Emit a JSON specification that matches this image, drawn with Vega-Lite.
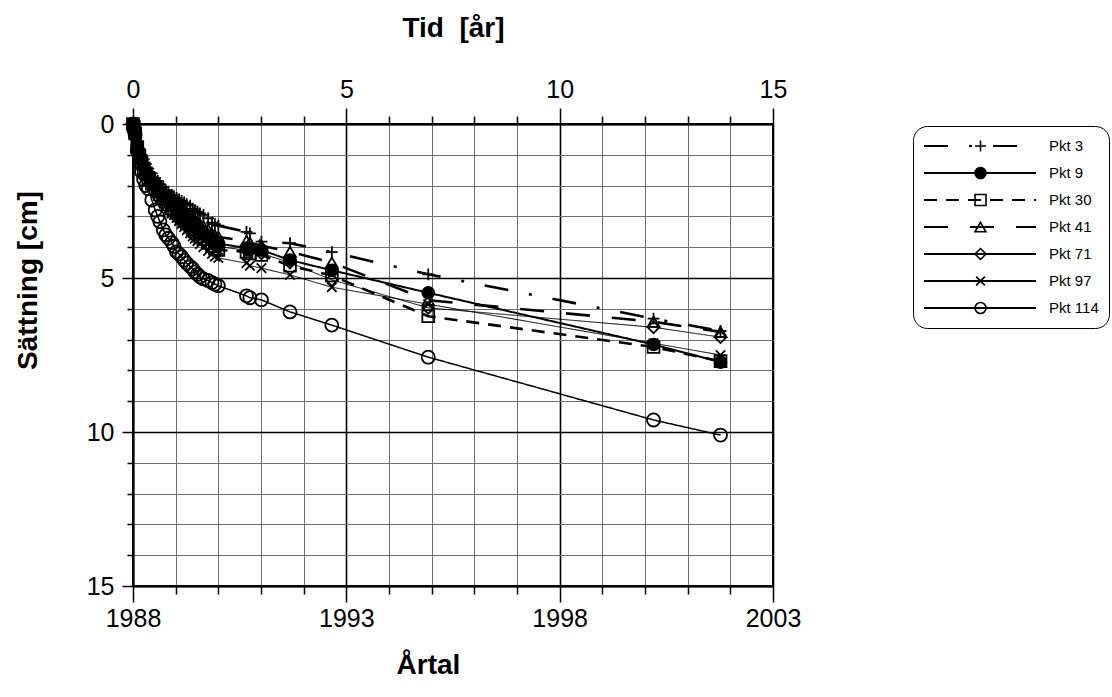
{
"$schema": "https://vega.github.io/schema/vega-lite/v6.json",
"width": 640, "height": 462,
"autosize": {"type": "none"},
"padding": {"left": 133, "top": 124, "right": 339, "bottom": 111},
"background": "white",
"config": {
  "view": {"stroke": "black", "strokeWidth": 2},
  "axis": {"domainColor": "black", "domainWidth": 2, "tickColor": "black", "tickWidth": 1.5, "labelColor": "black", "titleColor": "black",
    "labelFont": "Liberation Sans", "labelFontSize": 25,
    "titleFont": "Liberation Sans", "titleFontSize": 28, "titleFontWeight": "bold",
    "labelOverlap": false, "labelFlush": false}
},
"data": {"values": [
{"Pkt":"Pkt 3","t":0,"s":0},{"Pkt":"Pkt 3","t":0.02,"s":0.05},{"Pkt":"Pkt 3","t":0.05,"s":0.2},{"Pkt":"Pkt 3","t":0.1,"s":0.6},{"Pkt":"Pkt 3","t":0.15,"s":0.8},{"Pkt":"Pkt 3","t":0.2,"s":1.0},{"Pkt":"Pkt 3","t":0.25,"s":1.15},{"Pkt":"Pkt 3","t":0.3,"s":1.3},{"Pkt":"Pkt 3","t":0.36,"s":1.45},{"Pkt":"Pkt 3","t":0.44,"s":1.6},{"Pkt":"Pkt 3","t":0.52,"s":1.75},{"Pkt":"Pkt 3","t":0.58,"s":1.85},{"Pkt":"Pkt 3","t":0.63,"s":1.95},{"Pkt":"Pkt 3","t":0.71,"s":2.05},{"Pkt":"Pkt 3","t":0.77,"s":2.15},{"Pkt":"Pkt 3","t":0.83,"s":2.2},{"Pkt":"Pkt 3","t":0.91,"s":2.3},{"Pkt":"Pkt 3","t":0.96,"s":2.35},{"Pkt":"Pkt 3","t":1.02,"s":2.4},{"Pkt":"Pkt 3","t":1.08,"s":2.45},{"Pkt":"Pkt 3","t":1.14,"s":2.5},{"Pkt":"Pkt 3","t":1.2,"s":2.55},{"Pkt":"Pkt 3","t":1.26,"s":2.6},{"Pkt":"Pkt 3","t":1.34,"s":2.65},{"Pkt":"Pkt 3","t":1.4,"s":2.75},{"Pkt":"Pkt 3","t":1.45,"s":2.8},{"Pkt":"Pkt 3","t":1.51,"s":2.85},{"Pkt":"Pkt 3","t":1.57,"s":2.9},{"Pkt":"Pkt 3","t":1.65,"s":2.95},{"Pkt":"Pkt 3","t":1.76,"s":3.06},{"Pkt":"Pkt 3","t":1.85,"s":3.2},{"Pkt":"Pkt 3","t":1.92,"s":3.25},{"Pkt":"Pkt 3","t":2.0,"s":3.3},{"Pkt":"Pkt 3","t":2.66,"s":3.5},{"Pkt":"Pkt 3","t":2.74,"s":3.55},{"Pkt":"Pkt 3","t":3.01,"s":3.82},{"Pkt":"Pkt 3","t":3.68,"s":3.87},{"Pkt":"Pkt 3","t":4.66,"s":4.16},{"Pkt":"Pkt 3","t":6.92,"s":4.88},{"Pkt":"Pkt 3","t":12.2,"s":6.32},{"Pkt":"Pkt 3","t":13.77,"s":6.72},
{"Pkt":"Pkt 9","t":0,"s":0},{"Pkt":"Pkt 9","t":0.02,"s":0.08},{"Pkt":"Pkt 9","t":0.05,"s":0.28},{"Pkt":"Pkt 9","t":0.1,"s":0.71},{"Pkt":"Pkt 9","t":0.15,"s":0.97},{"Pkt":"Pkt 9","t":0.2,"s":1.19},{"Pkt":"Pkt 9","t":0.25,"s":1.37},{"Pkt":"Pkt 9","t":0.3,"s":1.52},{"Pkt":"Pkt 9","t":0.36,"s":1.67},{"Pkt":"Pkt 9","t":0.44,"s":1.85},{"Pkt":"Pkt 9","t":0.52,"s":2.0},{"Pkt":"Pkt 9","t":0.58,"s":2.1},{"Pkt":"Pkt 9","t":0.63,"s":2.2},{"Pkt":"Pkt 9","t":0.71,"s":2.33},{"Pkt":"Pkt 9","t":0.77,"s":2.43},{"Pkt":"Pkt 9","t":0.83,"s":2.5},{"Pkt":"Pkt 9","t":0.91,"s":2.63},{"Pkt":"Pkt 9","t":0.96,"s":2.68},{"Pkt":"Pkt 9","t":1.02,"s":2.76},{"Pkt":"Pkt 9","t":1.08,"s":2.84},{"Pkt":"Pkt 9","t":1.14,"s":2.91},{"Pkt":"Pkt 9","t":1.2,"s":2.99},{"Pkt":"Pkt 9","t":1.26,"s":3.07},{"Pkt":"Pkt 9","t":1.34,"s":3.15},{"Pkt":"Pkt 9","t":1.4,"s":3.25},{"Pkt":"Pkt 9","t":1.45,"s":3.31},{"Pkt":"Pkt 9","t":1.51,"s":3.37},{"Pkt":"Pkt 9","t":1.57,"s":3.45},{"Pkt":"Pkt 9","t":1.65,"s":3.53},{"Pkt":"Pkt 9","t":1.76,"s":3.64},{"Pkt":"Pkt 9","t":1.85,"s":3.76},{"Pkt":"Pkt 9","t":1.92,"s":3.83},{"Pkt":"Pkt 9","t":2.0,"s":3.88},{"Pkt":"Pkt 9","t":2.66,"s":4.03},{"Pkt":"Pkt 9","t":2.74,"s":4.06},{"Pkt":"Pkt 9","t":3.01,"s":4.09},{"Pkt":"Pkt 9","t":3.68,"s":4.42},{"Pkt":"Pkt 9","t":4.66,"s":4.75},{"Pkt":"Pkt 9","t":6.92,"s":5.48},{"Pkt":"Pkt 9","t":12.2,"s":7.16},{"Pkt":"Pkt 9","t":13.77,"s":7.73},
{"Pkt":"Pkt 30","t":0,"s":0},{"Pkt":"Pkt 30","t":0.02,"s":0.09},{"Pkt":"Pkt 30","t":0.05,"s":0.31},{"Pkt":"Pkt 30","t":0.1,"s":0.75},{"Pkt":"Pkt 30","t":0.15,"s":1.03},{"Pkt":"Pkt 30","t":0.2,"s":1.26},{"Pkt":"Pkt 30","t":0.25,"s":1.45},{"Pkt":"Pkt 30","t":0.3,"s":1.6},{"Pkt":"Pkt 30","t":0.36,"s":1.75},{"Pkt":"Pkt 30","t":0.44,"s":1.94},{"Pkt":"Pkt 30","t":0.52,"s":2.09},{"Pkt":"Pkt 30","t":0.58,"s":2.19},{"Pkt":"Pkt 30","t":0.63,"s":2.29},{"Pkt":"Pkt 30","t":0.71,"s":2.43},{"Pkt":"Pkt 30","t":0.77,"s":2.53},{"Pkt":"Pkt 30","t":0.83,"s":2.61},{"Pkt":"Pkt 30","t":0.91,"s":2.75},{"Pkt":"Pkt 30","t":0.96,"s":2.8},{"Pkt":"Pkt 30","t":1.02,"s":2.89},{"Pkt":"Pkt 30","t":1.08,"s":2.98},{"Pkt":"Pkt 30","t":1.14,"s":3.06},{"Pkt":"Pkt 30","t":1.2,"s":3.15},{"Pkt":"Pkt 30","t":1.26,"s":3.24},{"Pkt":"Pkt 30","t":1.34,"s":3.33},{"Pkt":"Pkt 30","t":1.4,"s":3.43},{"Pkt":"Pkt 30","t":1.45,"s":3.49},{"Pkt":"Pkt 30","t":1.51,"s":3.56},{"Pkt":"Pkt 30","t":1.57,"s":3.65},{"Pkt":"Pkt 30","t":1.65,"s":3.74},{"Pkt":"Pkt 30","t":1.76,"s":3.86},{"Pkt":"Pkt 30","t":1.85,"s":3.97},{"Pkt":"Pkt 30","t":1.92,"s":4.05},{"Pkt":"Pkt 30","t":2.0,"s":4.09},{"Pkt":"Pkt 30","t":2.66,"s":4.15},{"Pkt":"Pkt 30","t":2.74,"s":4.2},{"Pkt":"Pkt 30","t":3.01,"s":4.25},{"Pkt":"Pkt 30","t":3.68,"s":4.6},{"Pkt":"Pkt 30","t":4.66,"s":4.92},{"Pkt":"Pkt 30","t":6.92,"s":6.24},{"Pkt":"Pkt 30","t":12.2,"s":7.24},{"Pkt":"Pkt 30","t":13.77,"s":7.7},
{"Pkt":"Pkt 41","t":0,"s":0},{"Pkt":"Pkt 41","t":0.02,"s":0.07},{"Pkt":"Pkt 41","t":0.05,"s":0.25},{"Pkt":"Pkt 41","t":0.1,"s":0.67},{"Pkt":"Pkt 41","t":0.15,"s":0.91},{"Pkt":"Pkt 41","t":0.2,"s":1.12},{"Pkt":"Pkt 41","t":0.25,"s":1.29},{"Pkt":"Pkt 41","t":0.3,"s":1.44},{"Pkt":"Pkt 41","t":0.36,"s":1.59},{"Pkt":"Pkt 41","t":0.44,"s":1.76},{"Pkt":"Pkt 41","t":0.52,"s":1.91},{"Pkt":"Pkt 41","t":0.58,"s":2.01},{"Pkt":"Pkt 41","t":0.63,"s":2.11},{"Pkt":"Pkt 41","t":0.71,"s":2.23},{"Pkt":"Pkt 41","t":0.77,"s":2.33},{"Pkt":"Pkt 41","t":0.83,"s":2.39},{"Pkt":"Pkt 41","t":0.91,"s":2.51},{"Pkt":"Pkt 41","t":0.96,"s":2.56},{"Pkt":"Pkt 41","t":1.02,"s":2.63},{"Pkt":"Pkt 41","t":1.08,"s":2.7},{"Pkt":"Pkt 41","t":1.14,"s":2.76},{"Pkt":"Pkt 41","t":1.2,"s":2.83},{"Pkt":"Pkt 41","t":1.26,"s":2.9},{"Pkt":"Pkt 41","t":1.34,"s":2.97},{"Pkt":"Pkt 41","t":1.4,"s":3.07},{"Pkt":"Pkt 41","t":1.45,"s":3.12},{"Pkt":"Pkt 41","t":1.51,"s":3.18},{"Pkt":"Pkt 41","t":1.57,"s":3.25},{"Pkt":"Pkt 41","t":1.65,"s":3.32},{"Pkt":"Pkt 41","t":1.76,"s":3.43},{"Pkt":"Pkt 41","t":1.85,"s":3.56},{"Pkt":"Pkt 41","t":1.92,"s":3.62},{"Pkt":"Pkt 41","t":2.0,"s":3.67},{"Pkt":"Pkt 41","t":2.66,"s":3.8},{"Pkt":"Pkt 41","t":2.74,"s":3.85},{"Pkt":"Pkt 41","t":3.01,"s":3.95},{"Pkt":"Pkt 41","t":3.68,"s":4.15},{"Pkt":"Pkt 41","t":4.66,"s":4.5},{"Pkt":"Pkt 41","t":6.92,"s":5.72},{"Pkt":"Pkt 41","t":12.2,"s":6.42},{"Pkt":"Pkt 41","t":13.77,"s":6.75},
{"Pkt":"Pkt 71","t":0,"s":0},{"Pkt":"Pkt 71","t":0.02,"s":0.08},{"Pkt":"Pkt 71","t":0.05,"s":0.3},{"Pkt":"Pkt 71","t":0.1,"s":0.73},{"Pkt":"Pkt 71","t":0.15,"s":1.0},{"Pkt":"Pkt 71","t":0.2,"s":1.23},{"Pkt":"Pkt 71","t":0.25,"s":1.41},{"Pkt":"Pkt 71","t":0.3,"s":1.56},{"Pkt":"Pkt 71","t":0.36,"s":1.71},{"Pkt":"Pkt 71","t":0.44,"s":1.89},{"Pkt":"Pkt 71","t":0.52,"s":2.04},{"Pkt":"Pkt 71","t":0.58,"s":2.14},{"Pkt":"Pkt 71","t":0.63,"s":2.24},{"Pkt":"Pkt 71","t":0.71,"s":2.38},{"Pkt":"Pkt 71","t":0.77,"s":2.48},{"Pkt":"Pkt 71","t":0.83,"s":2.56},{"Pkt":"Pkt 71","t":0.91,"s":2.69},{"Pkt":"Pkt 71","t":0.96,"s":2.74},{"Pkt":"Pkt 71","t":1.02,"s":2.82},{"Pkt":"Pkt 71","t":1.08,"s":2.91},{"Pkt":"Pkt 71","t":1.14,"s":2.99},{"Pkt":"Pkt 71","t":1.2,"s":3.07},{"Pkt":"Pkt 71","t":1.26,"s":3.15},{"Pkt":"Pkt 71","t":1.34,"s":3.24},{"Pkt":"Pkt 71","t":1.4,"s":3.34},{"Pkt":"Pkt 71","t":1.45,"s":3.4},{"Pkt":"Pkt 71","t":1.51,"s":3.47},{"Pkt":"Pkt 71","t":1.57,"s":3.55},{"Pkt":"Pkt 71","t":1.65,"s":3.63},{"Pkt":"Pkt 71","t":1.76,"s":3.75},{"Pkt":"Pkt 71","t":1.85,"s":3.86},{"Pkt":"Pkt 71","t":1.92,"s":3.94},{"Pkt":"Pkt 71","t":2.0,"s":3.98},{"Pkt":"Pkt 71","t":2.66,"s":4.1},{"Pkt":"Pkt 71","t":2.74,"s":4.12},{"Pkt":"Pkt 71","t":3.01,"s":4.2},{"Pkt":"Pkt 71","t":3.68,"s":4.5},{"Pkt":"Pkt 71","t":4.66,"s":5.06},{"Pkt":"Pkt 71","t":6.92,"s":5.97},{"Pkt":"Pkt 71","t":12.2,"s":6.6},{"Pkt":"Pkt 71","t":13.77,"s":6.92},
{"Pkt":"Pkt 97","t":0,"s":0},{"Pkt":"Pkt 97","t":0.02,"s":0.1},{"Pkt":"Pkt 97","t":0.05,"s":0.35},{"Pkt":"Pkt 97","t":0.1,"s":0.8},{"Pkt":"Pkt 97","t":0.15,"s":1.1},{"Pkt":"Pkt 97","t":0.2,"s":1.35},{"Pkt":"Pkt 97","t":0.25,"s":1.55},{"Pkt":"Pkt 97","t":0.3,"s":1.7},{"Pkt":"Pkt 97","t":0.36,"s":1.85},{"Pkt":"Pkt 97","t":0.44,"s":2.05},{"Pkt":"Pkt 97","t":0.52,"s":2.2},{"Pkt":"Pkt 97","t":0.58,"s":2.3},{"Pkt":"Pkt 97","t":0.63,"s":2.4},{"Pkt":"Pkt 97","t":0.71,"s":2.55},{"Pkt":"Pkt 97","t":0.77,"s":2.65},{"Pkt":"Pkt 97","t":0.83,"s":2.75},{"Pkt":"Pkt 97","t":0.91,"s":2.9},{"Pkt":"Pkt 97","t":0.96,"s":2.95},{"Pkt":"Pkt 97","t":1.02,"s":3.05},{"Pkt":"Pkt 97","t":1.08,"s":3.15},{"Pkt":"Pkt 97","t":1.14,"s":3.25},{"Pkt":"Pkt 97","t":1.2,"s":3.35},{"Pkt":"Pkt 97","t":1.26,"s":3.45},{"Pkt":"Pkt 97","t":1.34,"s":3.55},{"Pkt":"Pkt 97","t":1.4,"s":3.65},{"Pkt":"Pkt 97","t":1.45,"s":3.72},{"Pkt":"Pkt 97","t":1.51,"s":3.8},{"Pkt":"Pkt 97","t":1.57,"s":3.9},{"Pkt":"Pkt 97","t":1.65,"s":4.0},{"Pkt":"Pkt 97","t":1.76,"s":4.12},{"Pkt":"Pkt 97","t":1.85,"s":4.22},{"Pkt":"Pkt 97","t":1.92,"s":4.31},{"Pkt":"Pkt 97","t":2.0,"s":4.35},{"Pkt":"Pkt 97","t":2.66,"s":4.52},{"Pkt":"Pkt 97","t":2.74,"s":4.6},{"Pkt":"Pkt 97","t":3.01,"s":4.68},{"Pkt":"Pkt 97","t":3.68,"s":4.9},{"Pkt":"Pkt 97","t":4.66,"s":5.3},{"Pkt":"Pkt 97","t":6.92,"s":5.85},{"Pkt":"Pkt 97","t":12.2,"s":7.12},{"Pkt":"Pkt 97","t":13.77,"s":7.5},
{"Pkt":"Pkt 114","t":0,"s":0},{"Pkt":"Pkt 114","t":0.02,"s":0.1},{"Pkt":"Pkt 114","t":0.05,"s":0.35},{"Pkt":"Pkt 114","t":0.1,"s":0.85},{"Pkt":"Pkt 114","t":0.15,"s":1.25},{"Pkt":"Pkt 114","t":0.2,"s":1.55},{"Pkt":"Pkt 114","t":0.25,"s":1.8},{"Pkt":"Pkt 114","t":0.3,"s":2.0},{"Pkt":"Pkt 114","t":0.36,"s":2.1},{"Pkt":"Pkt 114","t":0.44,"s":2.47},{"Pkt":"Pkt 114","t":0.52,"s":2.79},{"Pkt":"Pkt 114","t":0.58,"s":3.0},{"Pkt":"Pkt 114","t":0.63,"s":3.17},{"Pkt":"Pkt 114","t":0.71,"s":3.44},{"Pkt":"Pkt 114","t":0.77,"s":3.6},{"Pkt":"Pkt 114","t":0.83,"s":3.71},{"Pkt":"Pkt 114","t":0.91,"s":3.85},{"Pkt":"Pkt 114","t":0.96,"s":3.97},{"Pkt":"Pkt 114","t":1.02,"s":4.15},{"Pkt":"Pkt 114","t":1.08,"s":4.22},{"Pkt":"Pkt 114","t":1.14,"s":4.31},{"Pkt":"Pkt 114","t":1.2,"s":4.42},{"Pkt":"Pkt 114","t":1.26,"s":4.52},{"Pkt":"Pkt 114","t":1.34,"s":4.63},{"Pkt":"Pkt 114","t":1.4,"s":4.7},{"Pkt":"Pkt 114","t":1.45,"s":4.8},{"Pkt":"Pkt 114","t":1.51,"s":4.88},{"Pkt":"Pkt 114","t":1.57,"s":4.96},{"Pkt":"Pkt 114","t":1.65,"s":5.03},{"Pkt":"Pkt 114","t":1.76,"s":5.08},{"Pkt":"Pkt 114","t":1.85,"s":5.15},{"Pkt":"Pkt 114","t":1.92,"s":5.2},{"Pkt":"Pkt 114","t":2.0,"s":5.25},{"Pkt":"Pkt 114","t":2.66,"s":5.58},{"Pkt":"Pkt 114","t":2.74,"s":5.64},{"Pkt":"Pkt 114","t":3.01,"s":5.71},{"Pkt":"Pkt 114","t":3.68,"s":6.1},{"Pkt":"Pkt 114","t":4.66,"s":6.53},{"Pkt":"Pkt 114","t":6.92,"s":7.57},{"Pkt":"Pkt 114","t":12.2,"s":9.61},{"Pkt":"Pkt 114","t":13.77,"s":10.1}
]},
"encoding": {
  "y": {"field": "s", "type": "quantitative",
    "scale": {"domain": [0, 15], "reverse": true, "nice": false, "zero": false},
    "axis": {"title": "Sättning [cm]", "values": [0,1,2,3,4,5,6,7,8,9,10,11,12,13,14,15],
      "labelExpr": "datum.value % 5 === 0 ? datum.label : ''",
      "grid": true,
      "gridColor": {"condition": {"test": "datum.value % 5 === 0", "value": "black"}, "value": "#6e6e6e"},
      "gridWidth": {"condition": {"test": "datum.value % 5 === 0", "value": 1.6}, "value": 1},
      "tickSize": {"condition": {"test": "datum.value % 5 === 0", "value": 11}, "value": 6},
      "labelPadding": 8,
      "titleX": -105, "titleY": 156, "titleAngle": -90, "titleAlign": "center", "titleBaseline": "middle"}
  }
},
"layer": [
  {"mark": {"type": "line", "stroke": "black"},
   "encoding": {
     "x": {"field": "t", "type": "quantitative",
       "scale": {"domain": [0, 15], "nice": false, "zero": false},
       "axis": {"orient": "bottom", "title": "Årtal", "values": [0,1,2,3,4,5,6,7,8,9,10,11,12,13,14,15],
         "labelExpr": "datum.value % 5 === 0 ? '' + (datum.value + 1988) : ''",
         "grid": true,
         "gridColor": {"condition": {"test": "datum.value % 5 === 0", "value": "black"}, "value": "#6e6e6e"},
         "gridWidth": {"condition": {"test": "datum.value % 5 === 0", "value": 1.6}, "value": 1},
         "tickSize": {"condition": {"test": "datum.value % 5 === 0", "value": 16}, "value": 8},
         "labelPadding": 4,
         "titleX": 295, "titleY": 79, "titleAlign": "center", "titleBaseline": "middle"}},
     "strokeDash": {"field": "Pkt", "type": "nominal",
       "sort": ["Pkt 3","Pkt 9","Pkt 30","Pkt 41","Pkt 71","Pkt 97","Pkt 114"],
       "scale": {"range": [[24,21,3,21],[1,0],[13,9],[24,22],[1,0],[1,0],[1,0]]},
       "legend": {"orient": "none", "legendX": 780, "legendY": 2, "title": null,
         "symbolType": "stroke", "symbolSize": 12544, "symbolStrokeWidth": 2, "symbolStrokeColor": "black",
         "clipHeight": 20, "rowPadding": 7, "padding": 10,
         "labelFont": "Liberation Sans", "labelFontSize": 15, "labelColor": "black", "labelOffset": 12,
         "strokeColor": "black", "cornerRadius": 14}},
     "strokeWidth": {"condition": [
        {"test": "datum.Pkt === 'Pkt 71' || datum.Pkt === 'Pkt 97'", "value": 1},
        {"test": "datum.Pkt === 'Pkt 114'", "value": 1.5},
        {"test": "datum.Pkt === 'Pkt 9'", "value": 2}], "value": 2.6}
   }},
  {"mark": {"type": "point", "stroke": "black", "strokeWidth": 1.8, "opacity": 1},
   "encoding": {
     "x": {"field": "t", "type": "quantitative",
       "scale": {"domain": [0, 15], "nice": false, "zero": false},
       "axis": {"orient": "top", "title": "Tid\u00a0\u00a0[år]", "values": [0,1,2,3,4,5,6,7,8,9,10,11,12,13,14,15],
         "labelExpr": "datum.value % 5 === 0 ? datum.label : ''",
         "grid": false,
         "tickSize": {"condition": {"test": "datum.value % 5 === 0", "value": 16}, "value": 8},
         "labelPadding": 6,
         "titleX": 320, "titleY": -96, "titleAlign": "center", "titleBaseline": "middle"}},
     "shape": {"field": "Pkt", "type": "nominal",
       "scale": {"domain": ["Pkt 3","Pkt 9","Pkt 30","Pkt 41","Pkt 71","Pkt 97","Pkt 114"],
         "range": ["M-1,0L1,0M0,-1L0,1","circle","square","triangle-up","diamond","M-0.8,-0.8L0.8,0.8M-0.8,0.8L0.8,-0.8","circle"]},
       "legend": {"orient": "none", "legendX": 840, "legendY": 12, "title": null,
         "symbolSize": 120, "symbolStrokeColor": "black", "symbolStrokeWidth": 1.6,
         "clipHeight": 20, "rowPadding": 7, "padding": 0,
         "labelFontSize": 15, "labelOpacity": 0,
         "encoding": {"symbols": {
           "fill": {"condition": {"test": "datum.value === 'Pkt 9'", "value": "black"}, "value": "transparent"},
           "stroke": {"value": "black"}}}}},
     "fill": {"condition": {"test": "datum.Pkt === 'Pkt 9'", "value": "black"}, "value": "transparent"},
     "size": {"condition": {"test": "datum.Pkt === 'Pkt 114'", "value": 170}, "value": 140}
   }}
],
"resolve": {"axis": {"x": "independent"}}
}
